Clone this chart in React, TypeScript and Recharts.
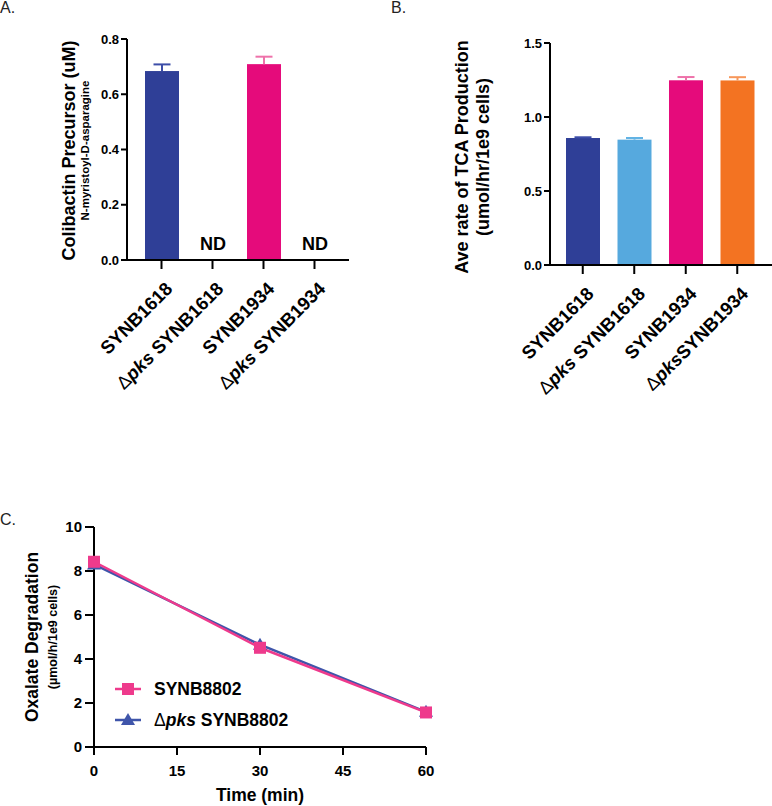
import React from "react";
import {
  Bar,
  BarChart,
  Legend,
  Line,
  LineChart,
  XAxis,
  YAxis,
} from "recharts";

const FONT = '"Liberation Sans", Arial, Helvetica, sans-serif';

// panel A – colibactin precursor
const strainsA = ["SYNB1618", "Δpks SYNB1618", "SYNB1934", "Δpks SYNB1934"];
const precursorMean = [0.684, 0, 0.709, 0];
const precursorErr = [0.024, 0, 0.027, 0];
const precursorND = [false, true, false, true];

// panel B – TCA production
const strainsB = ["SYNB1618", "Δpks SYNB1618", "SYNB1934", "ΔpksSYNB1934"];
const tcaMean = [0.858, 0.847, 1.248, 1.247];
const tcaErr = [0.005, 0.011, 0.022, 0.022];

// panel C – oxalate degradation
const timeMin = [0, 30, 60];
const oxalateSYNB8802 = [8.42, 4.51, 1.57];
const oxalatePks8802 = [8.3, 4.65, 1.6];

const DARK_BLUE = "#2f3f97";
const LIGHT_BLUE = "#56a9de";
const MAGENTA = "#e50b7b";
const ORANGE = "#f37322";
const colorsA = [DARK_BLUE, DARK_BLUE, MAGENTA, MAGENTA];
const errColorsA = ["#3d4ea8", "#3d4ea8", "#ee72aa", "#ee72aa"];
const colorsB = [DARK_BLUE, LIGHT_BLUE, MAGENTA, ORANGE];
const errColorsB = ["#3d4ea8", "#62b3e4", "#ee72aa", "#f7975a"];
const PINK = "#ee3a8c";
const LINE_BLUE = "#3f55aa";

const dataA = strainsA.map((name, i) => ({
  name,
  value: precursorMean[i],
  err: precursorErr[i],
  nd: precursorND[i],
}));
const dataB = strainsB.map((name, i) => ({
  name,
  value: tcaMean[i],
  err: tcaErr[i],
  nd: false,
}));
const dataC = timeMin.map((t, i) => ({
  t,
  synb: oxalateSYNB8802[i],
  pks: oxalatePks8802[i],
}));

const axisStyle = { stroke: "#000", strokeWidth: 2 };

function StrainLabel({ label }: { label: string }) {
  const m = label.match(/^Δpks( ?)(.*)$/);
  if (!m) return <>{label}</>;
  return (
    <>
      <tspan fontWeight="normal">Δ</tspan>
      <tspan fontStyle="italic">pks</tspan>
      <tspan>{m[1] + m[2]}</tspan>
    </>
  );
}

function SlantTick(props: any) {
  const { x, y, payload } = props;
  return (
    <g transform={`translate(${x + 12},${y + 19}) rotate(-45)`}>
      <text
        textAnchor="end"
        fontFamily={FONT}
        fontWeight="bold"
        fontSize={18.5}
        fill="#000"
      >
        <StrainLabel label={payload.value} />
      </text>
    </g>
  );
}

const makeBarShape = (colors: string[], errColors: string[]) => (props: any) => {
  const { x, y, width, height, index, payload } = props;
  const cx = x + width / 2;
  const perUnit = payload.value > 0 ? height / payload.value : 0;
  const errPx = payload.err * perUnit;
  return (
    <g>
      {height > 0 && (
        <rect x={x} y={y} width={width} height={height} fill={colors[index]} />
      )}
      {errPx > 0 && (
        <g stroke={errColors[index]} strokeWidth={2}>
          <line x1={cx} x2={cx} y1={y} y2={y - errPx} />
          <line x1={cx - 8.5} x2={cx + 8.5} y1={y - errPx} y2={y - errPx} />
        </g>
      )}
      {payload.nd && (
        <text
          x={cx}
          y={y - 10}
          textAnchor="middle"
          fontFamily={FONT}
          fontWeight="bold"
          fontSize={18}
          fill="#000"
        >
          ND
        </text>
      )}
    </g>
  );
};

function TwoLineLabel(props: any) {
  const { viewBox, lines } = props;
  const cy = viewBox.y + viewBox.height / 2 + (props.dy || 0);
  return (
    <g>
      {lines.map((l: any, i: number) => {
        const cx = viewBox.x + l.dx;
        return (
          <text
            key={i}
            x={cx}
            y={cy}
            transform={`rotate(-90 ${cx} ${cy})`}
            textAnchor="middle"
            dominantBaseline="central"
            fontFamily={FONT}
            fontWeight="bold"
            fontSize={l.size}
            fill="#000"
          >
            {l.text}
          </text>
        );
      })}
    </g>
  );
}

function PanelTitle({ text, left, top }: { text: string; left: number; top: number }) {
  return (
    <div
      style={{
        position: "absolute",
        left,
        top,
        fontFamily: FONT,
        fontSize: 16,
        lineHeight: "16px",
        color: "#222",
      }}
    >
      {text}
    </div>
  );
}

const yTick = { fontFamily: FONT, fontWeight: "bold", fontSize: 13, fill: "#000" };
const cTick = { fontFamily: FONT, fontWeight: "bold", fontSize: 15, fill: "#000" };

function SquareDot(p: any) {
  if (p.cx == null) return null;
  return <rect key={p.index} x={p.cx - 6} y={p.cy - 6} width={12} height={12} fill={PINK} />;
}

function TriangleDot(p: any) {
  if (p.cx == null) return null;
  const { cx, cy } = p;
  return (
    <path
      key={p.index}
      d={`M${cx},${cy - 7} L${cx + 7},${cy + 5} L${cx - 7},${cy + 5} Z`}
      fill={LINE_BLUE}
    />
  );
}

function OxalateLegend() {
  const rows = [
    { color: PINK, marker: "square", text: <>SYNB8802</> },
    {
      color: LINE_BLUE,
      marker: "triangle",
      text: <StrainLabel label="Δpks SYNB8802" />,
    },
  ];
  return (
    <svg width={260} height={62}>
      {rows.map((r, i) => {
        const cy = 14 + i * 31;
        return (
          <g key={i}>
            <line x1={3} x2={29} y1={cy} y2={cy} stroke={r.color} strokeWidth={2.5} />
            {r.marker === "square" ? (
              <rect x={10} y={cy - 6} width={12} height={12} fill={r.color} />
            ) : (
              <path d={`M16,${cy - 7} L23,${cy + 5} L9,${cy + 5} Z`} fill={r.color} />
            )}
            <text
              x={42}
              y={cy}
              dominantBaseline="central"
              fontFamily={FONT}
              fontWeight="bold"
              fontSize={17.5}
              fill="#000"
            >
              {r.text}
            </text>
          </g>
        );
      })}
    </svg>
  );
}

export default function App() {
  return (
    <div
      style={{
        position: "absolute",
        left: 0,
        top: 0,
        width: 772,
        height: 806,
        background: "#fff",
        overflow: "hidden",
      }}
    >
      <PanelTitle text="A." left={0} top={0} />
      <PanelTitle text="B." left={391} top={0} />
      <PanelTitle text="C." left={0} top={512} />

      <div style={{ position: "absolute", left: 0, top: 0 }}>
        <BarChart
          width={380}
          height={400}
          data={dataA}
          margin={{ top: 39, right: 31, bottom: 0, left: 87 }}
        >
          <XAxis
            dataKey="name"
            height={140}
            interval={0}
            padding={{ left: 9, right: 9 }}
            axisLine={axisStyle}
            tickLine={axisStyle}
            tickSize={9}
            tick={<SlantTick />}
          />
          <YAxis
            width={40}
            domain={[0, 0.8]}
            ticks={[0, 0.2, 0.4, 0.6, 0.8]}
            tickFormatter={(v: number) => v.toFixed(1)}
            axisLine={axisStyle}
            tickLine={axisStyle}
            tickSize={6}
            tickMargin={2}
            tick={yTick}
            label={
              <TwoLineLabel
                dy={1}
                lines={[
                  { text: "Colibactin Precursor (uM)", dx: -18, size: 18 },
                  { text: "N-myristoyl-D-asparagine", dx: -2, size: 11.5 },
                ]}
              />
            }
          />
          <Bar
            dataKey="value"
            barSize={34}
            isAnimationActive={false}
            shape={makeBarShape(colorsA, errColorsA)}
          />
        </BarChart>
      </div>

      <div style={{ position: "absolute", left: 380, top: 0 }}>
        <BarChart
          width={392}
          height={400}
          data={dataB}
          margin={{ top: 43, right: 0, bottom: 0, left: 130 }}
        >
          <XAxis
            dataKey="name"
            height={135}
            interval={0}
            padding={{ left: 7, right: 9 }}
            axisLine={axisStyle}
            tickLine={axisStyle}
            tickSize={9}
            tick={<SlantTick />}
          />
          <YAxis
            width={40}
            domain={[0, 1.5]}
            ticks={[0, 0.5, 1, 1.5]}
            tickFormatter={(v: number) => v.toFixed(1)}
            axisLine={axisStyle}
            tickLine={axisStyle}
            tickSize={6}
            tickMargin={2}
            tick={yTick}
            label={
              <TwoLineLabel
                dy={3}
                lines={[
                  { text: "Ave rate of TCA Production", dx: -48, size: 18 },
                  { text: "(umol/hr/1e9 cells)", dx: -27, size: 18 },
                ]}
              />
            }
          />
          <Bar
            dataKey="value"
            barSize={34}
            isAnimationActive={false}
            shape={makeBarShape(colorsB, errColorsB)}
          />
        </BarChart>
      </div>

      <div style={{ position: "absolute", left: 0, top: 440 }}>
        <LineChart
          width={460}
          height={366}
          data={dataC}
          margin={{ top: 87, right: 34, bottom: 0, left: 54 }}
        >
          <XAxis
            dataKey="t"
            type="number"
            domain={[0, 60]}
            ticks={[0, 15, 30, 45, 60]}
            height={59}
            axisLine={axisStyle}
            tickLine={axisStyle}
            tickSize={8}
            tickMargin={10}
            tick={cTick}
            label={(p: any) => (
              <text
                x={p.viewBox.x + p.viewBox.width / 2}
                y={p.viewBox.y + 54}
                textAnchor="middle"
                fontFamily={FONT}
                fontWeight="bold"
                fontSize={17.5}
                fill="#000"
              >
                Time (min)
              </text>
            )}
          />
          <YAxis
            width={40}
            domain={[0, 10]}
            ticks={[0, 2, 4, 6, 8, 10]}
            axisLine={axisStyle}
            tickLine={axisStyle}
            tickSize={9}
            tickMargin={3}
            tick={cTick}
            label={
              <TwoLineLabel
                dy={0}
                lines={[
                  { text: "Oxalate Degradation", dx: -22, size: 17.5 },
                  { text: "(µmol/h/1e9 cells)", dx: -1, size: 12.5 },
                ]}
              />
            }
          />
          <Legend
            layout="vertical"
            align="center"
            verticalAlign="middle"
            wrapperStyle={{ left: 112, top: 235, width: 260 }}
            content={() => <OxalateLegend />}
          />
          <Line
            dataKey="pks"
            stroke={LINE_BLUE}
            strokeWidth={2.5}
            dot={<TriangleDot />}
            isAnimationActive={false}
          />
          <Line
            dataKey="synb"
            stroke={PINK}
            strokeWidth={2.5}
            dot={<SquareDot />}
            isAnimationActive={false}
          />
        </LineChart>
      </div>
    </div>
  );
}
